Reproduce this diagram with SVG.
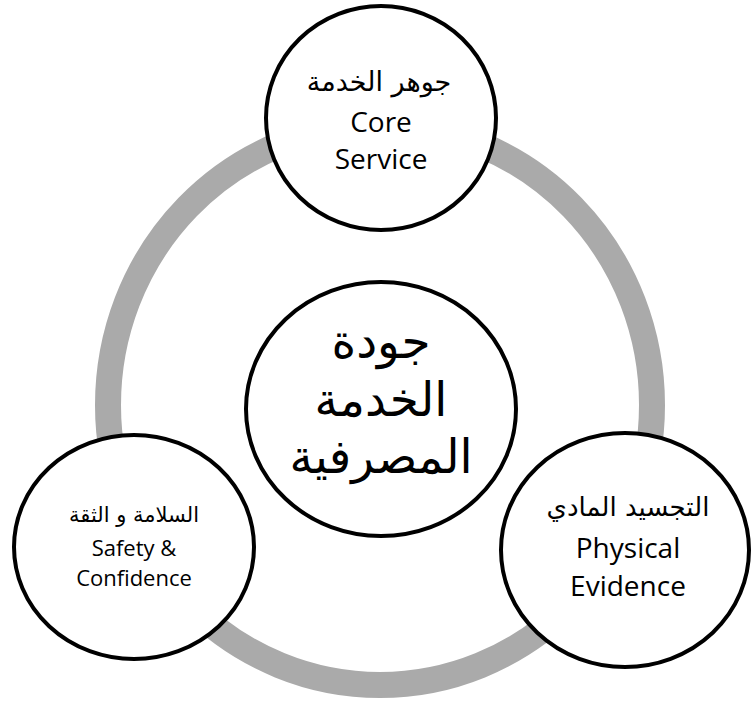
<svg xmlns="http://www.w3.org/2000/svg" width="751" height="702" viewBox="0 0 751 702">
<style>
.ring{fill:none;stroke:#aaaaaa;stroke-width:26}
.node{fill:#ffffff;stroke:#000000;stroke-width:4}
.en{font-family:"Open Sans","Liberation Sans",sans-serif;fill:#000;text-anchor:middle}
.ar{font-family:"DejaVu Sans","Noto Sans",sans-serif;fill:#000;text-anchor:middle}
</style>
<rect width="751" height="702" fill="#ffffff"/>
<g id="connectors">
<ellipse class="ring" cx="380" cy="405" rx="272" ry="280"/>
</g>
<g id="node-center">
<ellipse class="node" cx="381" cy="409" rx="135" ry="127"/>
<text class="ar" x="381" y="358" font-size="47">جودة</text>
<text class="ar" x="381" y="416" font-size="47">الخدمة</text>
<text class="ar" x="381" y="473" font-size="47">المصرفية</text>
</g>
<g id="node-top">
<ellipse class="node" cx="381" cy="118" rx="115" ry="112"/>
<text class="ar" x="379" y="91" font-size="27">جوهر الخدمة</text>
<text class="en" x="381" y="132" font-size="28">Core</text>
<text class="en" x="381" y="169" font-size="28">Service</text>
</g>
<g id="node-left">
<ellipse class="node" cx="134" cy="547" rx="120" ry="112"/>
<text class="ar" x="134" y="522" font-size="21">السلامة و الثقة</text>
<text class="en" x="134" y="556" font-size="22">Safety &amp;</text>
<text class="en" x="134" y="586" font-size="22">Confidence</text>
</g>
<g id="node-right">
<ellipse class="node" cx="625" cy="550" rx="124" ry="117"/>
<text class="ar" x="628" y="516" font-size="26">التجسيد المادي</text>
<text class="en" x="628" y="558" font-size="28">Physical</text>
<text class="en" x="628" y="596" font-size="28">Evidence</text>
</g>
</svg>
